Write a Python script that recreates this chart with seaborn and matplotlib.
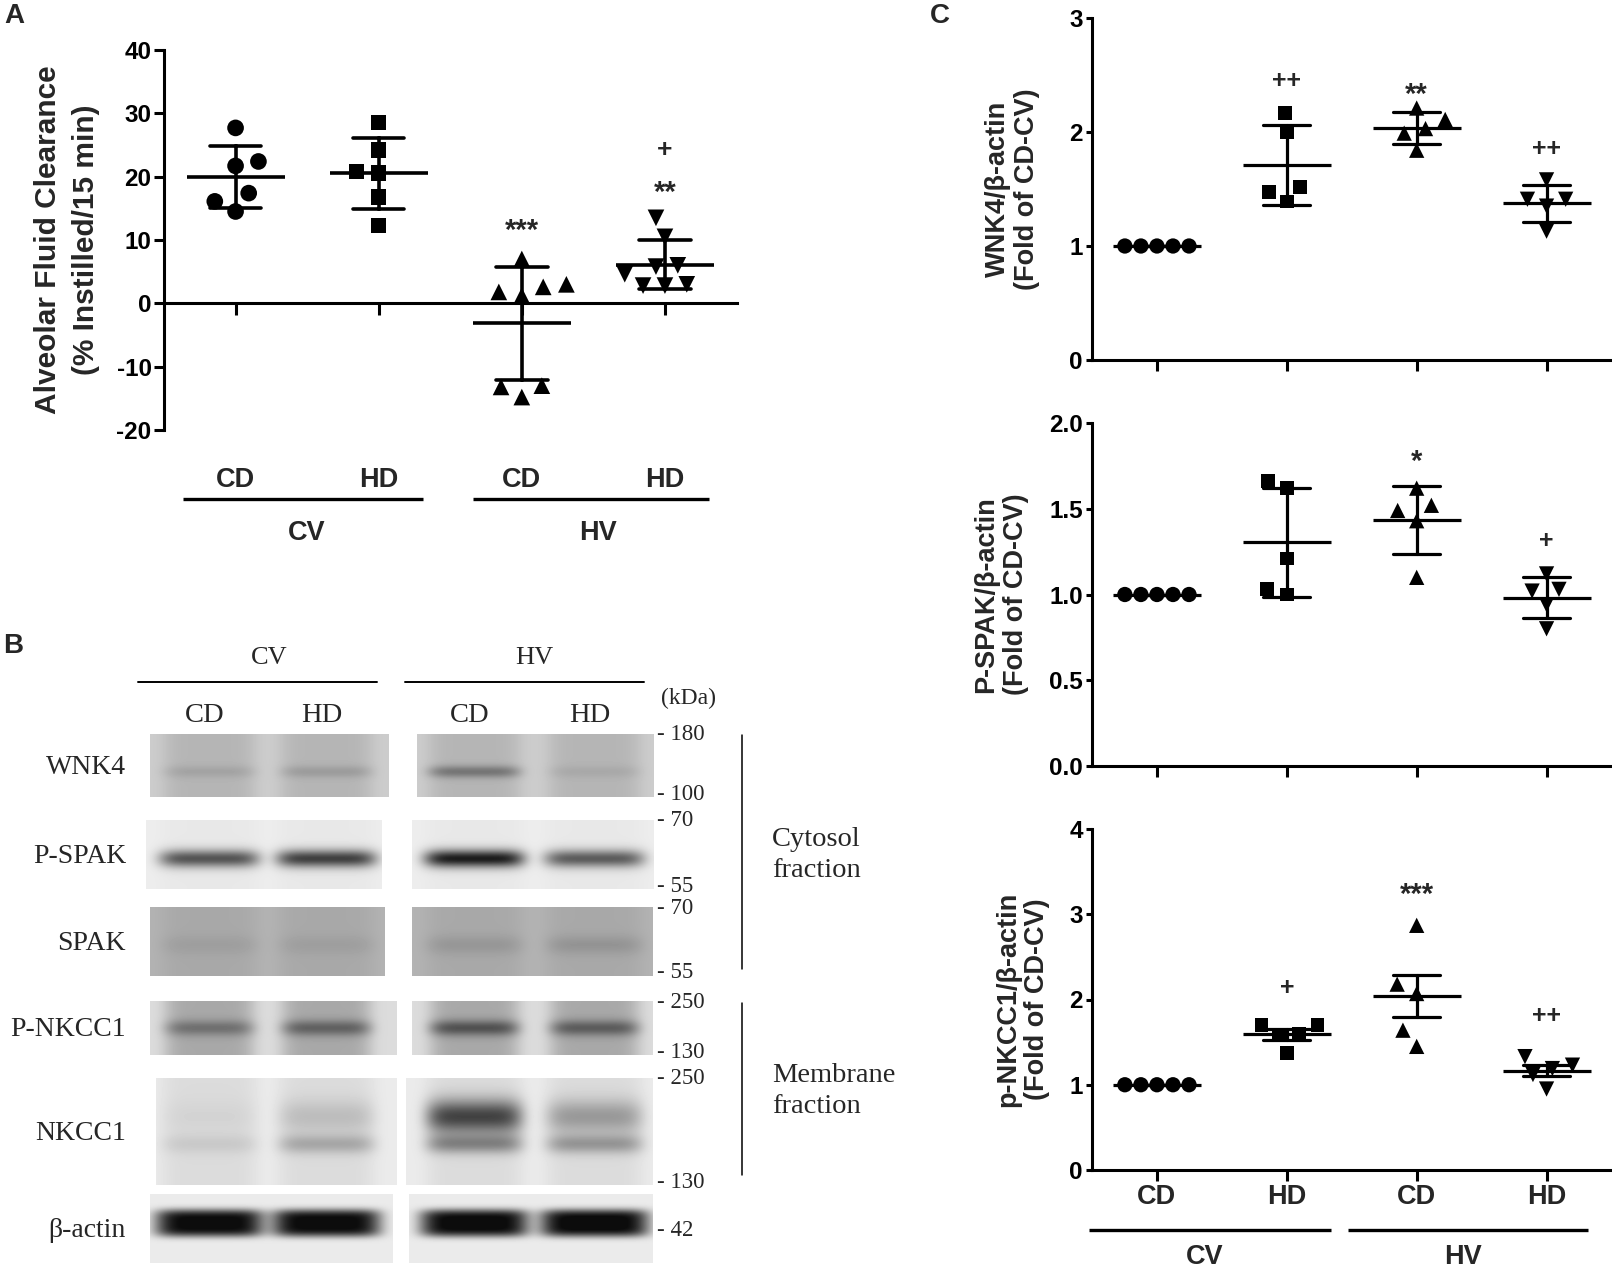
import numpy as np
import pandas as pd
import matplotlib
matplotlib.use("Agg")
import matplotlib.pyplot as plt
import matplotlib.transforms as mtransforms
import seaborn as sns

# ---------------- data ----------------
groups = ["CV-CD", "CV-HD", "HV-CD", "HV-HD"]
diet_labels = ["CD", "HD", "CD", "HD"]
vent_labels = ["CV", "HV"]
group_markers = ["o", "s", "^", "v"]

# Panel A: alveolar fluid clearance (% instilled / 15 min)
afc_cv_cd = [27.7, 22.4, 21.7, 17.4, 14.5, 16.1]
afc_cv_hd = [28.5, 24.2, 20.6, 20.8, 16.8, 12.3]
afc_hv_cd = [7.0, 3.0, 2.6, 1.8, 1.2, -13.0, -13.2, -14.8]
afc_hv_hd = [13.5, 10.5, 6.0, 5.8, 4.6, 3.0, 2.8, 2.8]

# Panel C: fold of CD-CV
wnk4_cv_cd = [1.0, 1.0, 1.0, 1.0, 1.0]
wnk4_cv_hd = [2.17, 2.00, 1.52, 1.47, 1.39]
wnk4_hv_cd = [2.21, 2.11, 2.03, 1.99, 1.84]
wnk4_hv_hd = [1.58, 1.41, 1.41, 1.35, 1.13]

pspak_cv_cd = [1.0, 1.0, 1.0, 1.0, 1.0]
pspak_cv_hd = [1.66, 1.62, 1.21, 1.03, 1.00]
pspak_hv_cd = [1.62, 1.49, 1.52, 1.43, 1.10]
pspak_hv_hd = [1.12, 1.03, 1.02, 0.94, 0.80]

pnkcc1_cv_cd = [1.0, 1.0, 1.0, 1.0, 1.0]
pnkcc1_cv_hd = [1.70, 1.70, 1.60, 1.58, 1.37]
pnkcc1_hv_cd = [2.87, 2.18, 2.07, 1.64, 1.45]
pnkcc1_hv_hd = [1.33, 1.23, 1.19, 1.12, 0.95]

# significance marks: (group, y value, text)
afc_marks = [("HV-CD", 13.0, "***"), ("HV-HD", 19.0, "**"), ("HV-HD", 24.6, "+")]
wnk4_marks = [("CV-HD", 2.46, "++"), ("HV-CD", 2.41, "**"), ("HV-HD", 1.87, "++")]
pspak_marks = [("HV-CD", 1.83, "*"), ("HV-HD", 1.32, "+")]
pnkcc1_marks = [("HV-CD", 3.34, "***"), ("CV-HD", 2.16, "+"), ("HV-HD", 1.83, "++")]

# Panel B: western blot (band darkness per lane: CV-CD, CV-HD, HV-CD, HV-HD)
blot_rows = ["WNK4", "P-SPAK", "SPAK", "P-NKCC1", "NKCC1", "β-actin"]
blot_kda = [["180", "100"], ["70", "55"], ["70", "55"], ["250", "130"], ["250", "130"], ["42"]]
blot_background = [0.80, 0.93, 0.70, 0.86, 0.92, 0.92]
blot_lane_tint = [0.09, 0.02, 0.04, 0.20, 0.06, 0.0]
band_upper = [[0.07, 0.10, 0.25, 0.05],
              [0.58, 0.66, 0.80, 0.55],
              [0.04, 0.04, 0.07, 0.08],
              [0.22, 0.28, 0.34, 0.30],
              [0.03, 0.12, 0.60, 0.26],
              [0.90, 0.90, 0.91, 0.92]]
band_lower = [[0.0, 0.0, 0.0, 0.0],
              [0.0, 0.0, 0.0, 0.0],
              [0.0, 0.0, 0.0, 0.0],
              [0.0, 0.0, 0.0, 0.0],
              [0.07, 0.20, 0.32, 0.26],
              [0.0, 0.0, 0.0, 0.0]]
fraction_labels = ["Cytosol\nfraction", "Membrane\nfraction"]

# ---------------- style ----------------
sns.set_theme(style="ticks")
plt.rcParams["font.family"] = ["Liberation Sans", "DejaVu Sans"]
plt.rcParams.update({
    "axes.linewidth": 2.2,
    "xtick.major.width": 2.2,
    "ytick.major.width": 2.2,
    "axes.edgecolor": "black",
    "xtick.color": "black",
    "ytick.color": "black",
    "axes.facecolor": "none",
    "axes.unicode_minus": False,
})
SERIF = ["Liberation Serif", "DejaVu Serif"]

W, H = 1612, 1269
fig = plt.figure(figsize=(W / 100, H / 100), dpi=100)


def rect(x0, y0, x1, y1):
    return [x0 / W, 1 - y1 / H, (x1 - x0) / W, (y1 - y0) / H]


# ---------------- panel B (blot) ----------------
axb = fig.add_axes([0, 0, 1, 1])
axb.set_xlim(0, W)
axb.set_ylim(H, 0)
axb.axis("off")

row_y = [(734, 797), (820, 889), (907, 976), (1001, 1055), (1078, 1185), (1194, 1263)]
left_x = [(150, 389), (146, 382), (150, 385), (150, 397), (156, 397), (150, 393)]
right_x = [(417, 654), (412, 654), (412, 653), (412, 653), (406, 653), (409, 653)]
lane_cx = [209, 326, 474, 594]
band_c = [0.60, 0.56, 0.55, 0.50, 0.36, 0.42]
band_s = [0.10, 0.13, 0.14, 0.15, 0.16, 0.20]
band_pow = [2, 2, 2, 2, 2, 4]
lane_half = [46, 50, 48, 45, 48, 54]


def blot_block(ri, x0, x1, lanes):
    y0, y1 = row_y[ri]
    h, w = y1 - y0, x1 - x0
    yy = np.linspace(0, 1, h)[:, None]
    xx = (np.arange(w) + x0)[None, :]
    img = np.full((h, w), blot_background[ri])
    for li in lanes:
        px = np.exp(-((xx - lane_cx[li]) / lane_half[ri]) ** 6)
        img = img - blot_lane_tint[ri] * px
        up = band_upper[ri][li] * np.exp(-np.abs((yy - band_c[ri]) / band_s[ri]) ** band_pow[ri])
        lo = band_lower[ri][li] * np.exp(-((yy - 0.62) / 0.09) ** 2)
        img = img - px * (up + lo)
    img = np.clip(img, 0.05, 1)
    axb.imshow(img, cmap="gray", vmin=0, vmax=1, extent=(x0, x1, y1, y0),
               aspect="auto", interpolation="bilinear")


for ri, name in enumerate(blot_rows):
    blot_block(ri, *left_x[ri], [0, 1])
    blot_block(ri, *right_x[ri], [2, 3])
    axb.text(126, sum(row_y[ri]) / 2 + 2, name, ha="right", va="center",
             fontsize=20, family=SERIF)
    kd = blot_kda[ri]
    if len(kd) == 2:
        axb.text(657, row_y[ri][0] + 1, "- " + kd[0], ha="left", va="center", fontsize=16.5, family=SERIF)
        axb.text(657, row_y[ri][1] - 3, "- " + kd[1], ha="left", va="center", fontsize=16.5, family=SERIF)
    else:
        axb.text(657, sum(row_y[ri]) / 2 + 2, "- " + kd[0], ha="left", va="center", fontsize=16.5, family=SERIF)

for cx, lab in zip(lane_cx, diet_labels):
    axb.text(cx - 4, 716, lab, ha="center", va="center", fontsize=20.5, family=SERIF)
axb.text(269, 658, vent_labels[0], ha="center", va="center", fontsize=19, family=SERIF)
axb.text(534, 658, vent_labels[1], ha="center", va="center", fontsize=19, family=SERIF)
axb.plot([138, 377], [682, 682], color="black", lw=1.4)
axb.plot([405, 644], [682, 682], color="black", lw=1.4)
axb.text(689, 698, "(kDa)", ha="center", va="center", fontsize=17, family=SERIF)
axb.plot([742, 742], [735, 969], color="black", lw=1.1)
axb.plot([742, 742], [1003, 1175], color="black", lw=1.1)
axb.text(772, 855, fraction_labels[0], ha="left", va="center", fontsize=20.5, family=SERIF, linespacing=1.3)
axb.text(772, 1091, fraction_labels[1], ha="left", va="center", fontsize=20.5, family=SERIF, linespacing=1.3)

# panel letters
axb.text(4, 16, "A", ha="left", va="center", fontsize=20, fontweight="bold")
axb.text(3, 646, "B", ha="left", va="center", fontsize=20, fontweight="bold")
axb.text(930, 16, "C", ha="left", va="center", fontsize=20, fontweight="bold")


# ---------------- scatter panels ----------------
def make_df(vals):
    return pd.DataFrame({"group": np.repeat(groups, [len(v) for v in vals]),
                         "value": np.concatenate(vals)})


def scatter_panel(ax, df, sizes, gaps, err, mean_len, lw):
    for g, m, s, gp in zip(groups, group_markers, sizes, gaps):
        sns.swarmplot(data=df[df["group"] == g], x="group", y="value", order=groups,
                      marker=m, color="black", size=s, linewidth=gp, edgecolor="none",
                      ax=ax, zorder=3)
    sns.pointplot(data=df, x="group", y="value", order=groups, estimator="mean",
                  errorbar=err, capsize=0.36, color="black", markers="_",
                  markersize=mean_len, markeredgewidth=lw, linestyle="none",
                  err_kws={"linewidth": lw}, ax=ax, zorder=4)
    ax.set_xlim(-0.5, 3.5)
    ax.set_xlabel("")
    sns.despine(ax=ax)


def marks(ax, items, star_fs, plus_fs):
    for g, yv, txt in items:
        if "*" in txt:
            fs, c = star_fs, 0.60
        else:
            fs, c = plus_fs, 0.35
        ax.annotate(txt, xy=(groups.index(g), yv), xytext=(0, -c * fs),
                    textcoords="offset points", ha="center", va="baseline",
                    fontsize=fs, fontweight="bold", zorder=5)


def group_axis(ax, y_diet, y_line, y_vent, lines, vent_x, fs, lw):
    tr = mtransforms.blended_transform_factory(ax.transData, fig.transFigure)
    for i, lab in enumerate(diet_labels):
        ax.text(i, 1 - y_diet / H, lab, transform=tr, ha="center", va="center",
                fontsize=fs, fontweight="bold")
    for (a, b) in lines:
        ax.plot([a, b], [1 - y_line / H] * 2, transform=tr, color="black", lw=lw,
                clip_on=False, solid_capstyle="butt")
    for xv, lab in zip(vent_x, vent_labels):
        ax.text(xv, 1 - y_vent / H, lab, transform=tr, ha="center", va="center",
                fontsize=fs, fontweight="bold")


# Panel A
axA = fig.add_axes(rect(164, 50, 736.5, 430))
dfA = make_df([afc_cv_cd, afc_cv_hd, afc_hv_cd, afc_hv_hd])
scatter_panel(axA, dfA, [12, 11, 12, 12], [4, 4, 4, 3], "sd", 70, 2.6)
axA.set_ylim(-20, 40)
axA.set_yticks([-20, -10, 0, 10, 20, 30, 40])
axA.spines["bottom"].set_position(("data", 0))
axA.tick_params(axis="x", direction="out", length=8.5, labelbottom=False)
axA.tick_params(axis="y", direction="out", length=7, labelsize=17.5, pad=2)
for t in axA.get_yticklabels():
    t.set_fontweight("bold")
axA.set_ylabel("Alveolar Fluid Clearance\n(% Instilled/15 min)", fontsize=21.5,
               fontweight="bold", linespacing=1.45)
axA.yaxis.set_label_coords(-0.112, 0.5)
marks(axA, afc_marks, 21, 19)
group_axis(axA, 480, 499, 533, [(-0.37, 1.31), (1.66, 3.31)], [0.50, 2.53], 19.5, 2.4)

# Panel C
c_specs = [
    ((18, 360), [wnk4_cv_cd, wnk4_cv_hd, wnk4_hv_cd, wnk4_hv_hd], "sd", (0, 3),
     [0, 1, 2, 3], "%d", "WNK4/β-actin\n(Fold of CD-CV)", -0.100, wnk4_marks),
    ((423, 766), [pspak_cv_cd, pspak_cv_hd, pspak_hv_cd, pspak_hv_hd], "sd", (0, 2),
     [0, 0.5, 1.0, 1.5, 2.0], "%.1f", "P-SPAK/β-actin\n(Fold of CD-CV)", -0.122, pspak_marks),
    ((829, 1170), [pnkcc1_cv_cd, pnkcc1_cv_hd, pnkcc1_hv_cd, pnkcc1_hv_hd], "se", (0, 4),
     [0, 1, 2, 3, 4], "%d", "p-NKCC1/β-actin\n(Fold of CD-CV)", -0.080, pnkcc1_marks),
]
axesC = []
for (yt, yb), vals, err, ylim, ticks, fmt, ylab, lx, mk in c_specs:
    ax = fig.add_axes(rect(1092, yt, 1611.5, yb))
    df = make_df(vals)
    scatter_panel(ax, df, [11, 10, 11, 11], [0, 4, 4, 3], err, 63, 2.3)
    ax.set_ylim(*ylim)
    ax.set_yticks(ticks)
    ax.set_yticklabels([fmt % t for t in ticks])
    ax.tick_params(axis="x", direction="out", length=8, labelbottom=False)
    ax.tick_params(axis="y", direction="out", length=4.5, labelsize=17.5, pad=2)
    for t in ax.get_yticklabels():
        t.set_fontweight("bold")
    ax.set_ylabel(ylab, fontsize=19.5, fontweight="bold", linespacing=1.15)
    ax.yaxis.set_label_coords(lx, 0.5)
    marks(ax, mk, 21, 18)
    axesC.append(ax)

group_axis(axesC[2], 1197, 1230, 1257, [(-0.52, 1.34), (1.47, 3.32)], [0.37, 2.36], 19.5, 2.4)

fig.savefig("out.png", dpi=100)
